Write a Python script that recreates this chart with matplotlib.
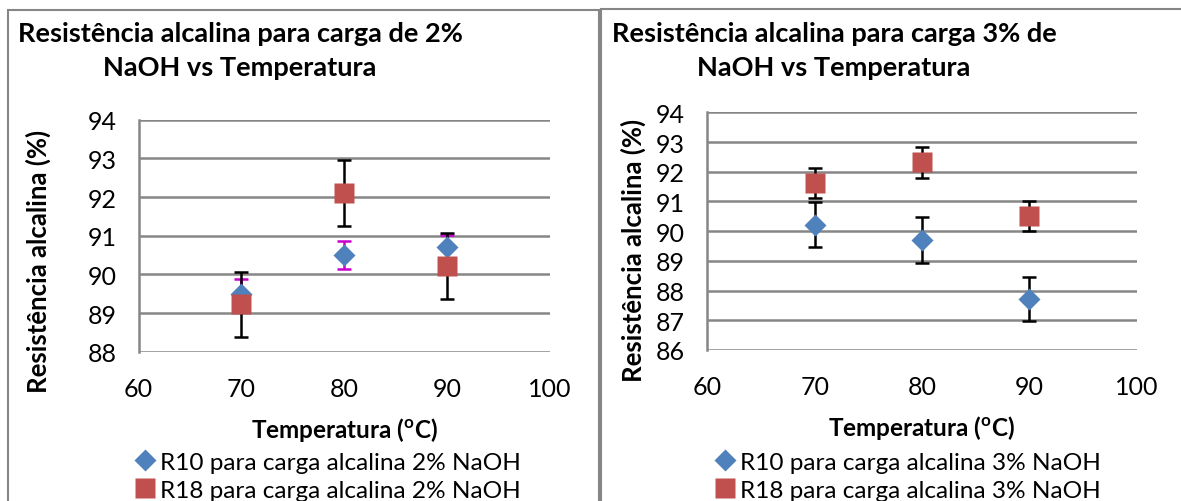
import matplotlib.pyplot as plt
from matplotlib.patches import Rectangle

plt.rcParams['font.family'] = ['Lato', 'DejaVu Sans']
plt.rcParams['mathtext.fontset'] = 'custom'
plt.rcParams['mathtext.rm'] = 'Lato'
plt.rcParams['mathtext.bf'] = 'Lato:bold'

temps = [70, 80, 90]

# 2% NaOH
r10_2 = [89.5, 90.5, 90.72]
r10_2_err = [0.38, 0.36, 0.3]
r18_2 = [89.23, 92.1, 90.21]
r18_2_err = [0.84, 0.85, 0.85]

# 3% NaOH
r10_3 = [90.21, 89.7, 87.72]
r10_3_err = [0.76, 0.76, 0.75]
r18_3 = [91.62, 92.32, 90.51]
r18_3_err = [0.5, 0.52, 0.51]

blue = '#4F81BD'
red = '#C0504D'
grid = '#868686'

W, H = 1181, 502
fig = plt.figure(figsize=(W / 100, H / 100), dpi=100)


def px(x0, y0, x1, y1):
    return [x0 / W, 1 - y1 / H, (x1 - x0) / W, (y1 - y0) / H]


# chart frames
fig.patches.append(Rectangle((7.5 / W, -0.1), (599 - 7.5) / W, 1.1 - 11 / H,
                             transform=fig.transFigure, fill=False, ec=grid, lw=1.5))
fig.patches.append(Rectangle((601 / W, -0.1), (1190 - 601) / W, 1.1 - 9.5 / H,
                             transform=fig.transFigure, fill=False, ec=grid, lw=1.5))


def panel(rect, y10, e10, y18, e18, ecol10, ylim, yticks, pct, title, tpos, ylpos, legpos):
    ax = fig.add_axes(rect)
    ax.errorbar(temps, y10, yerr=e10, fmt='none', ecolor=ecol10, elinewidth=1.8,
                capsize=4.7, capthick=1.8, zorder=2)
    ax.errorbar(temps, y18, yerr=e18, fmt='none', ecolor='black', elinewidth=1.8,
                capsize=4.7, capthick=1.8, zorder=2)
    h10, = ax.plot(temps, y10, 'D', color=blue, ms=10.7, mec='none', zorder=3,
                   label=f'R10 para carga alcalina {pct} NaOH')
    h18, = ax.plot(temps, y18, 's', color=red, ms=14.5, mec='none', zorder=4,
                   label=f'R18 para carga alcalina {pct} NaOH')
    ax.set_xlim(60, 100)
    ax.set_ylim(*ylim)
    ax.set_xticks([60, 70, 80, 90, 100])
    ax.set_yticks(yticks)
    ax.yaxis.grid(True, color=grid, lw=1.8)
    ax.set_axisbelow(True)
    for s in ['top', 'right', 'bottom']:
        ax.spines[s].set_visible(False)
    ax.spines['left'].set_color(grid)
    ax.spines['left'].set_linewidth(1.8)
    ax.tick_params(length=0, labelsize=18, pad=0)
    ax.tick_params(axis='x', pad=18)
    ax.tick_params(axis='y', pad=16)
    ax.set_xlabel(r'Temperatura ($\mathbf{^{o}}$C)', fontsize=17.5, fontweight='bold', labelpad=11)
    fig.text(ylpos[0] / W, 1 - ylpos[1] / H, 'Resistência alcalina (%)', rotation=90,
             fontsize=18.5, fontweight='bold', ha='center', va='center')
    fig.text(tpos[0] / W, 1 - tpos[1] / H, title, fontsize=19.5, fontweight='bold',
             ha='center', va='center', linespacing=1.45)
    fig.legend(handles=[h10, h18], loc='center left',
               bbox_to_anchor=(legpos[0] / W, 1 - legpos[1] / H), frameon=False,
               fontsize=17.6, handlelength=0.6, handletextpad=0.3, labelspacing=0.28,
               borderpad=0, borderaxespad=0)
    return ax


panel(px(138.5, 120.7, 549.6, 352.7), r10_2, r10_2_err, r18_2, r18_2_err, '#CC00CC',
      (88, 94), range(88, 95), '2%',
      'Resistência alcalina para carga de 2%\nNaOH vs Temperatura', (240, 51), (38, 261), (138, 477))
panel(px(707.4, 113.3, 1136.5, 351), r10_3, r10_3_err, r18_3, r18_3_err, 'black',
      (86, 94), range(86, 95), '3%',
      'Resistência alcalina para carga 3% de\nNaOH vs Temperatura', (834, 51), (633, 250), (718, 477))

fig.savefig('out.png', dpi=100)
